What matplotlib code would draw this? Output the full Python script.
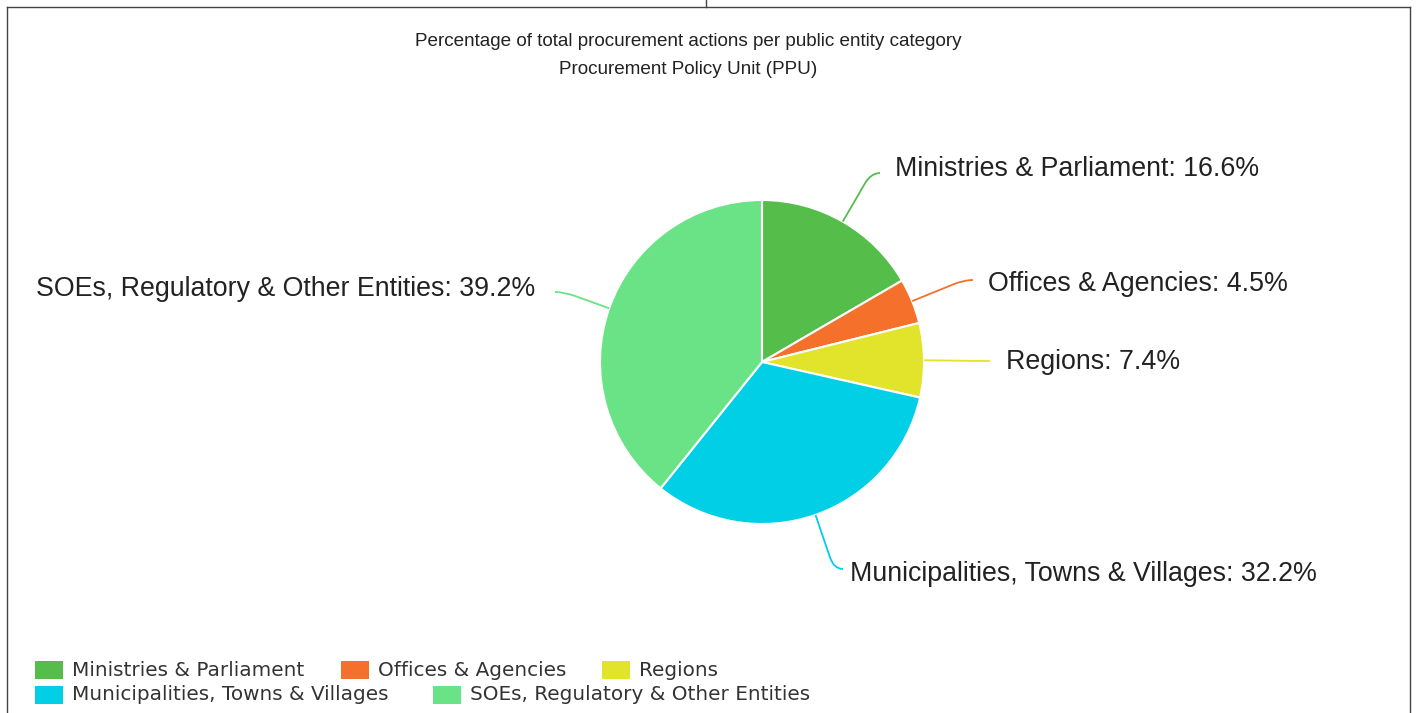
import numpy as np
import matplotlib
matplotlib.use("Agg")
import matplotlib.pyplot as plt
from matplotlib.patches import Rectangle, PathPatch
from matplotlib.path import Path

# ---- data ----
categories = ["Ministries & Parliament", "Offices & Agencies", "Regions",
              "Municipalities, Towns & Villages", "SOEs, Regulatory & Other Entities"]
values = [16.6, 4.5, 7.4, 32.2, 39.2]
colors = ["#55BE4B", "#F5702A", "#E2E32B", "#00CFE6", "#69E386"]
title = "Percentage of total procurement actions per public entity category"
subtitle = "Procurement Policy Unit (PPU)"

W, H = 1417, 713
fig = plt.figure(figsize=(W / 100, H / 100), dpi=100)
ax = fig.add_axes([0, 0, 1, 1])


def Y(y):
    return H - y


# pie
cx, cy, r = 762, Y(362), 162
ax.pie(values, colors=colors, startangle=90, counterclock=False, center=(cx, cy), radius=r,
       wedgeprops=dict(edgecolor="white", linewidth=1.5), frame=True)
ax.set_xlim(0, W)
ax.set_ylim(0, H)
ax.set_aspect("equal")
ax.axis("off")

# frame
fc = "#444444"
ax.plot([7, 1410], [Y(7), Y(7)], color=fc, lw=1)
ax.plot([7, 7], [Y(7), 0], color=fc, lw=1)
ax.plot([1410, 1410], [Y(7), 0], color=fc, lw=1)
ax.plot([706, 706], [Y(0), Y(7)], color=fc, lw=1)

# titles
tfont = ["Liberation Sans", "DejaVu Sans"]
ax.text(688, Y(41), title, ha="center", va="center", fontsize=13.6, family=tfont, color="#222222")
ax.text(688, Y(70), subtitle, ha="center", va="center", fontsize=13.6, family=tfont, color="#222222")

# labels with connectors
label_pos = [(895, 169, "left", 880, 173),
             (988, 284, "left", 973, 280),
             (1006, 362, "left", 990, 361),
             (850, 574, "left", 843, 569),
             (535, 289, "right", 555, 292)]
total = sum(values)
cum = 0
for i, v in enumerate(values):
    mid = (cum + v / 2) / total * 2 * np.pi
    cum += v
    p0 = np.array([cx + r * np.sin(mid), cy + r * np.cos(mid)])
    lx, ly, ha, ex, ey = label_pos[i]
    p2 = np.array([ex, Y(ey)])
    sgn = -1 if ha == "left" else 1
    c = np.array([ex + sgn * 9, Y(ey)])
    d = c - p0
    dist = np.hypot(*d)
    p1 = c - d / dist * min(12, dist * 0.5)
    path = Path([p0, p1, c, p2], [Path.MOVETO, Path.LINETO, Path.CURVE3, Path.CURVE3])
    ax.add_patch(PathPatch(path, fill=False, edgecolor=colors[i], lw=1.3))
    ax.text(lx, Y(ly), f"{categories[i]}: {v}%", ha=ha, va="center", fontsize=19.3,
            family=tfont, color="#222222")

# legend
leg = [(35, 670), (341, 670), (602, 670), (35, 695), (433, 695)]
for i, (lx, ly) in enumerate(leg):
    ax.add_patch(Rectangle((lx, Y(ly) - 9), 28, 18, facecolor=colors[i], edgecolor="none"))
    ax.text(lx + 37, Y(ly), categories[i], ha="left", va="center", fontsize=14.4,
            family="DejaVu Sans", color="#333333")

fig.savefig("out.png", dpi=100)
